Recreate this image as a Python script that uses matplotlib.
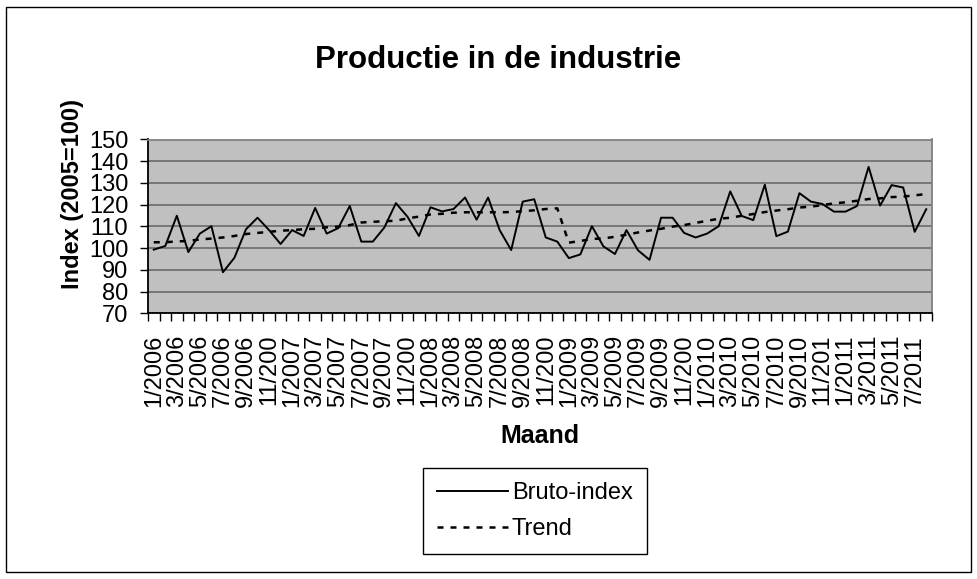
import numpy as np
import matplotlib.pyplot as plt
from matplotlib.patches import Rectangle

plt.rcParams['font.family'] = ['Liberation Sans', 'DejaVu Sans']

# Maandcijfers 1/2006 .. 8/2011
bruto = [99.3, 101.0, 114.9, 98.2, 106.7, 110.1, 88.9, 95.6, 108.7, 114.0, 108.3, 101.9,
         108.3, 105.6, 118.5, 106.7, 109.2, 119.4, 103.0, 103.0, 109.5, 120.7, 114.5, 105.6,
         118.8, 116.9, 118.0, 123.3, 113.1, 123.3, 108.3, 99.1, 121.4, 122.5, 104.9, 103.0,
         95.4, 97.1, 110.1, 100.8, 97.3, 108.3, 99.0, 94.6, 114.0, 114.0, 107.0, 104.9,
         106.7, 110.1, 126.1, 114.8, 112.9, 129.2, 105.5, 107.6, 125.3, 121.4, 120.3, 116.8,
         116.8, 119.4, 137.4, 119.6, 129.0, 127.9, 107.5, 117.9]
trend = [102.7, 102.7, 103.1, 103.3, 104.0, 104.4, 104.9, 105.6, 106.5, 107.0, 107.5, 108.0,
         108.3, 108.7, 108.9, 109.6, 109.9, 110.6, 111.8, 112.1, 112.4, 112.6, 113.7, 114.5,
         115.5, 115.8, 116.3, 116.5, 116.5, 116.5, 116.5, 116.6, 117.0, 117.4, 118.0, 118.3,
         102.5, 103.3, 104.2, 104.5, 105.2, 106.2, 107.2, 108.1, 108.9, 109.9, 110.6, 111.6,
         112.6, 113.5, 114.0, 114.9, 115.7, 116.6, 117.3, 117.9, 118.7, 119.1, 119.8, 120.6,
         121.1, 121.8, 122.6, 122.9, 123.5, 123.7, 124.3, 124.9]
maand_labels = ['1/2006', '3/2006', '5/2006', '7/2006', '9/2006', '11/200',
                '1/2007', '3/2007', '5/2007', '7/2007', '9/2007', '11/200',
                '1/2008', '3/2008', '5/2008', '7/2008', '9/2008', '11/200',
                '1/2009', '3/2009', '5/2009', '7/2009', '9/2009', '11/200',
                '1/2010', '3/2010', '5/2010', '7/2010', '9/2010', '11/201',
                '1/2011', '3/2011', '5/2011', '7/2011']
y_ticks = [70, 80, 90, 100, 110, 120, 130, 140, 150]

W, H = 978, 579
fig = plt.figure(figsize=(W / 100, H / 100), dpi=100)
fig.patches.append(Rectangle((6 / W, 7 / H), 965 / W, 565 / H, transform=fig.transFigure,
                             fill=False, edgecolor='black', lw=1))

ax = fig.add_axes([148 / W, 1 - 313.3 / H, (932 - 148) / W, (313.3 - 139.5) / H])
ax.set_facecolor('#c0c0c0')

x = np.arange(len(bruto))
ax.plot(x, bruto, color='black', lw=1.4, label='Bruto-index', zorder=3)
ax.plot(x, trend, color='black', lw=1.8, dashes=(2.4, 2.8), label='Trend', zorder=3)

ax.set_xlim(-0.5, len(bruto) - 0.5)
ax.set_ylim(70, 150)
ax.set_yticks(y_ticks)
ax.yaxis.grid(True, color='#6a6a6a', lw=1.2)
ax.set_axisbelow(True)

ax.set_xticks(x[::2])
ax.set_xticklabels(maand_labels, rotation=90, fontsize=17)
ax.set_xticks(np.arange(len(bruto) + 1) - 0.5, minor=True)
ax.tick_params(axis='x', which='major', length=0, pad=15.6)
ax.tick_params(axis='x', which='minor', length=5.8, width=1, direction='out')
ax.tick_params(axis='y', length=5.8, width=1, pad=8.4, labelsize=17)

for s in ['left', 'bottom']:
    ax.spines[s].set_color('black')
    ax.spines[s].set_linewidth(1.3)
for s in ['top', 'right']:
    ax.spines[s].set_color('#808080')
    ax.spines[s].set_linewidth(1.3)

fig.text(498 / W, 1 - 60 / H, 'Productie in de industrie', ha='center', va='center',
         fontsize=22.5, fontweight='bold')
fig.text(72 / W, 1 - 194 / H, 'Index (2005=100)', ha='center', va='center',
         rotation=90, fontsize=17, fontweight='bold')
fig.text(540 / W, 1 - 436 / H, 'Maand', ha='center', va='center',
         fontsize=18, fontweight='bold')

leg = ax.legend(loc='center', bbox_to_anchor=(535 / W, 1 - 511 / H),
                bbox_transform=fig.transFigure, fontsize=17, frameon=True,
                fancybox=False, framealpha=1, edgecolor='black', handlelength=3.0,
                handletextpad=0.15, labelspacing=0.6, borderpad=0.6, borderaxespad=0)
leg.get_frame().set_linewidth(1)

fig.savefig('out.png', dpi=100)
